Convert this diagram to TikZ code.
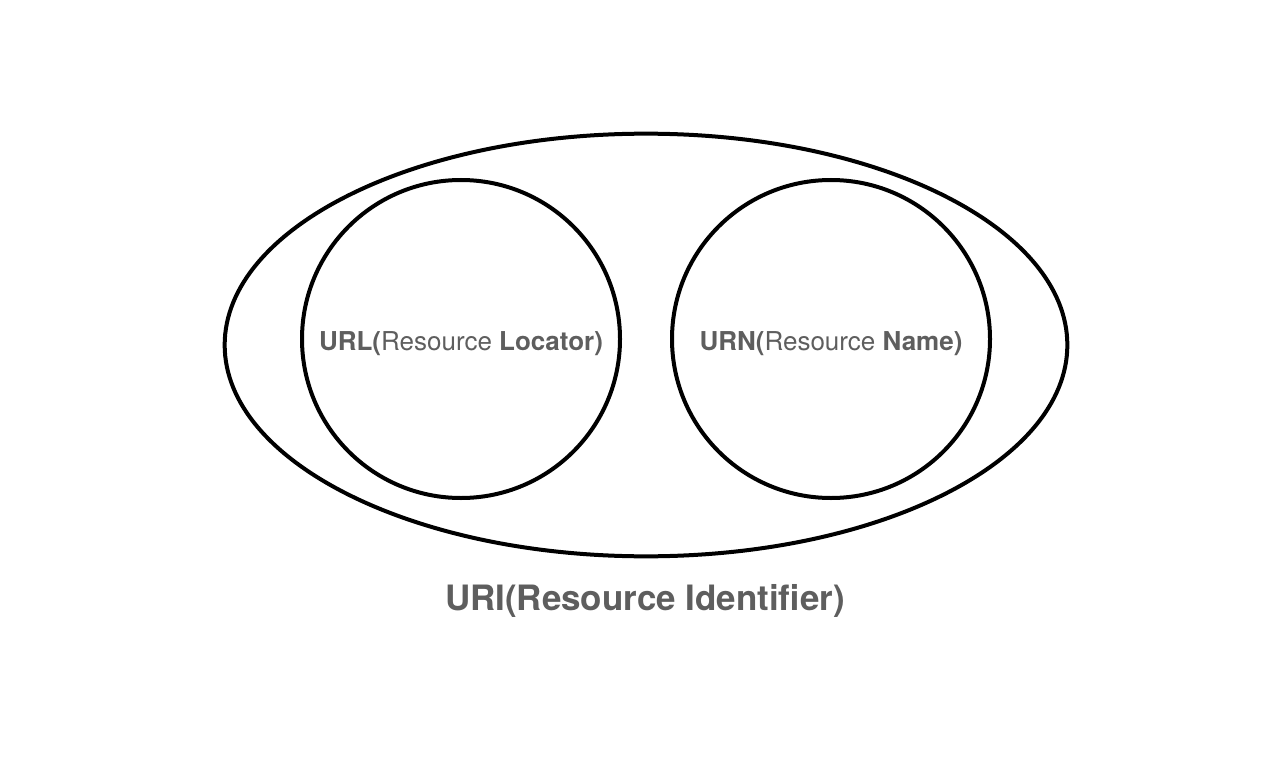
\documentclass[tikz,border=0pt]{standalone}
\usepackage{fontspec}
\setmainfont{TeX Gyre Heros}
\usetikzlibrary{positioning, shapes.geometric}

\definecolor{labelgray}{HTML}{5E5E5E}

\begin{document}
\begin{tikzpicture}[
    x=0.75pt, y=-0.75pt,
    set/.style={draw=black, line width=3pt, inner sep=0pt},
    part/.style={set, circle, minimum size=238.5pt},
    setlabel/.style={text=labelgray, inner sep=0pt, anchor=base, font=\fontsize{19.5}{22}\selectfont}
]
    \useasboundingbox (0,0) rectangle (1288,770);

    % Outer set
    \node[set, ellipse, minimum width=632pt, minimum height=317pt] (uri) at (646,345) {};

    % Inner sets
    \node[part] (url) at (461,339) {};
    \node[part] (urn) at (831,339) {};

    % Labels
    \node[setlabel] (urllabel) at (461,350) {\textbf{URL(}Resource \textbf{Locator)}};
    \node[setlabel] (urnlabel) at (831,350) {\textbf{URN(}Resource \textbf{Name)}};
    \node[setlabel, font=\fontsize{26.2}{30}\selectfont\bfseries] (urilabel) at (645,610) {URI(Resource Identifier)};
\end{tikzpicture}
\end{document}
